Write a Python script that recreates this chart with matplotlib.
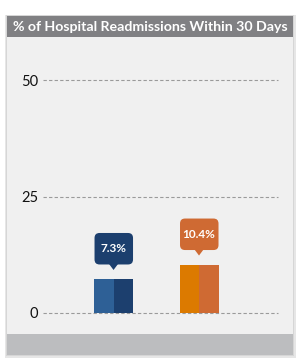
import matplotlib.pyplot as plt
import matplotlib.transforms as mtransforms
from matplotlib.patches import Rectangle, FancyBboxPatch, Polygon

# data
values = [7.3, 10.4]
value_labels = ['7.3%', '10.4%']
light_colors = ['#2e6096', '#dc7a00']
dark_colors = ['#1c3f6e', '#cf6a33']
yticks = [0, 25, 50]
title = '% of Hospital Readmissions Within 30 Days'

W, H = 300, 362
fig = plt.figure(figsize=(W / 100, H / 100), dpi=100)
fig.patch.set_facecolor('white')


def card_rect(x0, y0, x1, y1, color):
    # pixel coords, y measured from the top
    fig.add_artist(Rectangle((x0 / W, 1 - y1 / H), (x1 - x0) / W, (y1 - y0) / H,
                             transform=fig.transFigure, facecolor=color,
                             edgecolor='none', zorder=-5))


# card with shadow, header and footer
card_rect(5, 15, 296, 358, '#e6e6e6')
card_rect(6, 15, 294, 356, '#d6d6d6')
card_rect(7, 16, 293, 355, '#f0f0f0')
card_rect(7, 16, 293, 37, '#808083')
card_rect(7, 334, 293, 355, '#bcbdbf')
fig.text(150 / W, 1 - 27 / H, title, ha='center', va='center', color='white',
         fontsize=10.2, fontweight='bold', family='Lato')

ax = fig.add_axes([43 / W, 1 - 313 / H, 235 / W, 233 / H])
ax.set_facecolor('none')
ax.set_xlim(-0.825, 1.924)
ax.set_ylim(0, 50)
for s in ax.spines.values():
    s.set_visible(False)
ax.set_xticks([])
ax.set_yticks(yticks)
ax.tick_params(axis='y', length=0, pad=3.6, labelsize=10.5, labelcolor='#111111')
for lab in ax.get_yticklabels():
    lab.set_family('Lato')
for t in yticks:
    ax.axhline(t, color='#9a9a9a', lw=0.8, ls=(0, (3, 2)), zorder=1, clip_on=False)

bw = 0.228
x = list(range(len(values)))
ax.bar([i - bw for i in x], values, width=bw, align='edge', color=light_colors, zorder=2)
ax.bar(x, values, width=bw, align='edge', color=dark_colors, zorder=2)

# callouts above each bar (sizes in inches, 1px = 0.01in)
for i, v in enumerate(values):
    tr = fig.dpi_scale_trans + mtransforms.ScaledTranslation(i, v, ax.transData)
    ax.add_patch(FancyBboxPatch((-0.19, 0.145), 0.385, 0.315,
                                boxstyle='round,pad=0,rounding_size=0.05',
                                transform=tr, facecolor=dark_colors[i],
                                edgecolor='none', clip_on=False, zorder=3))
    ax.add_patch(Polygon([(-0.045, 0.15), (0.045, 0.15), (0, 0.09)], closed=True,
                         transform=tr, facecolor=dark_colors[i], edgecolor='none',
                         clip_on=False, zorder=3))
    ax.text(0, 0.305, value_labels[i], transform=tr, ha='center', va='center',
            color='white', fontsize=8.5, fontweight='bold', family='Lato', zorder=4)

fig.savefig('out.png', dpi=100)
